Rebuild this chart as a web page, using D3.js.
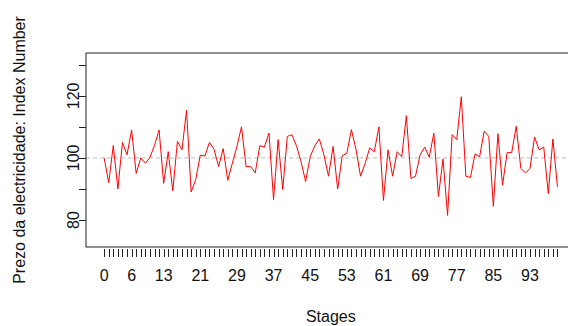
<!DOCTYPE html>
<html>
<head>
<meta charset="utf-8">
<script src="https://cdn.jsdelivr.net/npm/d3@7"></script>
<style>
  body { margin: 0; background: #fff; }
  text { font-family: "Liberation Sans", Arial, sans-serif; fill: #111; }
</style>
</head>
<body>
<svg id="chart" width="568" height="326"></svg>
<script>
// price index per stage
const priceIndex = [
    100, 92, 104, 90, 105, 101, 109, 95, 100, 98.3,
    100.2, 104, 109, 91.8, 102, 89.4, 105.3, 102.6, 115.4, 89,
    93, 100.9, 100.6, 105, 102.8, 97.2, 103, 92.8, 98.3, 103.7,
    110, 97.2, 97.2, 95.2, 103.9, 103.5, 108, 86.6, 105.9, 89.8,
    106.9, 107.5, 103.9, 98.8, 92.4, 100.4, 103.9, 106.1, 101, 94.1,
    103.7, 90, 100.7, 101.5, 109.1, 102.8, 94.1, 98.3, 103.2, 102,
    110, 86.3, 102.6, 94.1, 102, 100.4, 113.6, 93.4, 94.1, 101,
    103.5, 100.2, 108, 87.6, 99.6, 81.5, 107.5, 105.9, 119.7, 94.1,
    93.7, 101.3, 100.4, 108.6, 106.9, 84.4, 107.8, 91.2, 101.7, 101.7,
    110.2, 96.6, 95.2, 96.6, 106.7, 102.6, 103.5, 88.5, 106.1, 90.7
];
const stages = priceIndex.map((d, i) => i);
const xTickLabels = [0, 6, 13, 21, 29, 37, 45, 53, 61, 69, 77, 85, 93];
const yTicks = [80, 90, 100, 110, 120, 130];
const yTickLabels = [80, 100, 120];
const refLevel = 100;

const box = { left: 86, right: 575.6, top: 53, bottom: 247 };

const svg = d3.select("#chart");

const xPad = 0.04 * (d3.max(stages) - d3.min(stages));
const xScale = d3.scaleLinear()
    .domain([d3.min(stages) - xPad, d3.max(stages) + xPad])
    .range([box.left, box.right]);
const yScale = d3.scaleLinear()
    .domain([71.3, 133.8])
    .range([box.bottom, box.top]);

// reference line
svg.append("line")
    .attr("x1", box.left).attr("x2", box.right)
    .attr("y1", yScale(refLevel)).attr("y2", yScale(refLevel))
    .attr("stroke", "#bdbdbd")
    .attr("stroke-width", 1)
    .attr("stroke-dasharray", "4,3");

const line = d3.line()
    .x((d, i) => xScale(stages[i]))
    .y(d => yScale(d));

svg.append("path")
    .datum(priceIndex)
    .attr("fill", "none")
    .attr("stroke", "#ff0000")
    .attr("stroke-width", 1)
    .attr("d", line);

// plot frame
svg.append("rect")
    .attr("x", box.left).attr("y", box.top)
    .attr("width", box.right - box.left)
    .attr("height", box.bottom - box.top)
    .attr("fill", "none")
    .attr("stroke", "#222")
    .attr("stroke-width", 1);

// x axis: a tick per stage, only some labelled
svg.selectAll(".x-tick")
    .data(stages)
    .join("line")
    .attr("class", "x-tick")
    .attr("x1", d => Math.round(xScale(d)) + 0.5)
    .attr("x2", d => Math.round(xScale(d)) + 0.5)
    .attr("y1", box.bottom + 2)
    .attr("y2", box.bottom + 10)
    .attr("stroke", "#222");

svg.selectAll(".x-label")
    .data(xTickLabels)
    .join("text")
    .attr("class", "x-label")
    .attr("x", d => xScale(d))
    .attr("y", 281)
    .attr("text-anchor", "middle")
    .attr("font-size", 16)
    .text(d => d);

// y axis
svg.selectAll(".y-tick")
    .data(yTicks)
    .join("line")
    .attr("class", "y-tick")
    .attr("x1", box.left - 7)
    .attr("x2", box.left)
    .attr("y1", d => Math.round(yScale(d)) + 0.5)
    .attr("y2", d => Math.round(yScale(d)) + 0.5)
    .attr("stroke", "#222");

svg.selectAll(".y-label")
    .data(yTickLabels)
    .join("text")
    .attr("class", "y-label")
    .attr("transform", d => `translate(79, ${yScale(d)}) rotate(-90)`)
    .attr("text-anchor", "middle")
    .attr("font-size", 16)
    .text(d => d);

svg.append("text")
    .attr("x", (box.left + box.right) / 2)
    .attr("y", 322)
    .attr("text-anchor", "middle")
    .attr("font-size", 16)
    .text("Stages");

svg.append("text")
    .attr("transform", `translate(25, ${(box.top + box.bottom) / 2}) rotate(-90)`)
    .attr("text-anchor", "middle")
    .attr("font-size", 16)
    .text("Prezo da electricidade: Index Number");
</script>
</body>
</html>
